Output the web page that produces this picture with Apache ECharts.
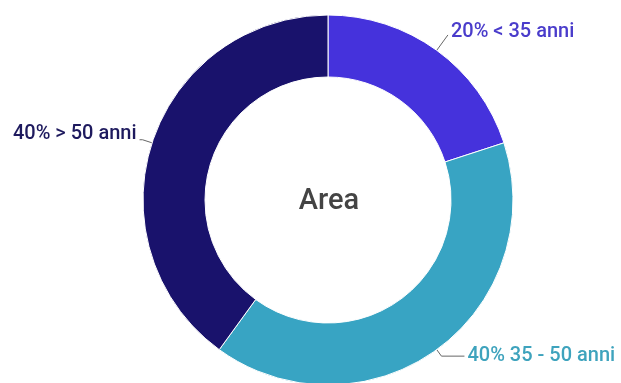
<!DOCTYPE html>
<html>
<head>
<meta charset="utf-8">
<script src="https://cdn.jsdelivr.net/npm/echarts@6/dist/echarts.min.js"></script>
<style>
    html, body { margin: 0; padding: 0; background: #fff; }
    #chart { width: 621px; height: 383px; }
</style>
</head>
<body>
<div id="chart"></div>
<script>
    // age groups, share in percent
    const categories = ['< 35 anni', '35 - 50 anni', '> 50 anni'];
    const values = [20, 40, 40];
    const colors = ['#4532dc', '#38a4c3', '#19126c'];
    const labelColors = ['#4a3ccb', '#3ea3bd', '#1e1a5e'];
    const lineLens = [[19, 0], [8, 23], [10, 3]];
    const labelShift = [-3, 0, -6];

    const chart = echarts.init(document.getElementById('chart'));

    const data = categories.map(function (name, i) {
        return {
            name: name,
            value: values[i],
            itemStyle: { color: colors[i] },
            label: { color: labelColors[i] },
            labelLine: { length: lineLens[i][0], length2: lineLens[i][1] }
        };
    });

    chart.setOption({
        backgroundColor: '#fff',
        animation: false,
        graphic: [{
            type: 'text',
            x: 329,
            y: 202,
            style: {
                text: 'Area',
                fill: '#444',
                font: '500 29px Roboto',
                textAlign: 'center',
                textVerticalAlign: 'middle'
            }
        }],
        series: [{
            type: 'pie',
            center: [328, 200],
            radius: [123, 185],
            startAngle: 90,
            clockwise: true,
            avoidLabelOverlap: false,
            itemStyle: {
                borderColor: '#fff',
                borderWidth: 1
            },
            label: {
                show: true,
                position: 'outside',
                fontFamily: 'Roboto',
                fontSize: 20,
                fontWeight: 500,
                distanceToLabelLine: 3,
                formatter: function (p) {
                    return p.value + '% ' + p.name;
                }
            },
            labelLine: {
                show: true,
                lineStyle: { color: '#666', width: 1 }
            },
            labelLayout: function (p) {
                return { dy: labelShift[p.dataIndex] };
            },
            data: data
        }]
    });
</script>
</body>
</html>
